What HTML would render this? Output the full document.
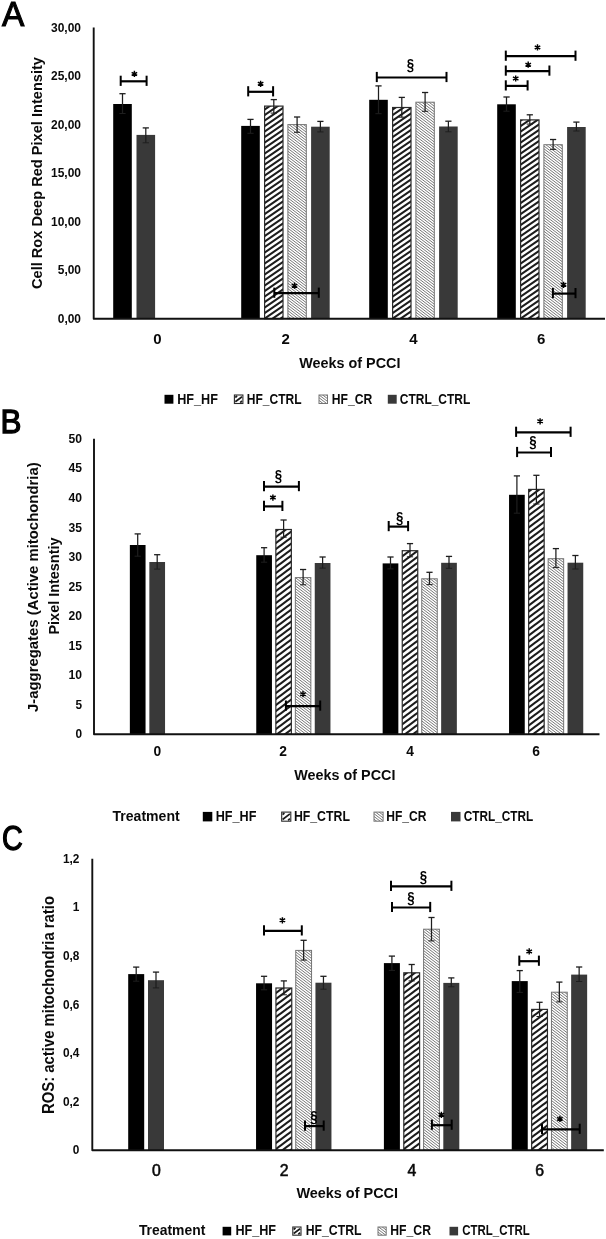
<!DOCTYPE html>
<html lang="en">
<head>
<meta charset="utf-8">
<title>Figure</title>
<style>
html,body{margin:0;padding:0;background:#fff;}
body{width:606px;height:1239px;overflow:hidden;font-family:"Liberation Sans", sans-serif;}
svg{display:block;filter:grayscale(1);}
text{white-space:pre;}
</style>
</head>
<body>
<svg width="606" height="1239" viewBox="0 0 606 1239" font-family='"Liberation Sans", sans-serif'>
<defs>
<pattern id="hwA" patternUnits="userSpaceOnUse" width="16" height="11"><rect width="16" height="11" fill="#fff"/><path d="M-8,-22 L24,-44 M-8,-16.5 L24,-38.5 M-8,-11 L24,-33 M-8,-5.5 L24,-27.5 M-8,0 L24,-22 M-8,5.5 L24,-16.5 M-8,11 L24,-11 M-8,16.5 L24,-5.5 M-8,22 L24,0 M-8,27.5 L24,5.5 M-8,33 L24,11" stroke="#1c1c1c" stroke-width="2.05" fill="none"/></pattern>
<pattern id="hw" patternUnits="userSpaceOnUse" width="8" height="6"><rect width="8" height="6" fill="#fff"/><path d="M-8,-12 L16,-30 M-8,-6 L16,-24 M-8,0 L16,-18 M-8,6 L16,-12 M-8,12 L16,-6 M-8,18 L16,0 M-8,24 L16,6" stroke="#1c1c1c" stroke-width="2.1" fill="none"/></pattern>
<pattern id="hf" patternUnits="userSpaceOnUse" width="18" height="11"><rect width="18" height="11" fill="#fff"/><path d="M-3.6,-30.25 L21.6,-11 M-3.6,-27.5 L21.6,-8.25 M-3.6,-24.75 L21.6,-5.5 M-3.6,-22 L21.6,-2.75 M-3.6,-19.25 L21.6,0 M-3.6,-16.5 L21.6,2.75 M-3.6,-13.75 L21.6,5.5 M-3.6,-11 L21.6,8.25 M-3.6,-8.25 L21.6,11 M-3.6,-5.5 L21.6,13.75 M-3.6,-2.75 L21.6,16.5 M-3.6,0 L21.6,19.25 M-3.6,2.75 L21.6,22 M-3.6,5.5 L21.6,24.75 M-3.6,8.25 L21.6,27.5 M-3.6,11 L21.6,30.25 M-3.6,13.75 L21.6,33 M-3.6,16.5 L21.6,35.75 M-3.6,19.25 L21.6,38.5 M-3.6,22 L21.6,41.25 M-3.6,24.75 L21.6,44" stroke="#787878" stroke-width="1" fill="none"/></pattern>
</defs>
<rect width="606" height="1239" fill="#fff"/>
<g>
<rect x="113.2" y="104" width="18.6" height="214.7" fill="#000"/>
<rect x="136.5" y="134.9" width="18.6" height="183.8" fill="#393939"/>
<rect x="241.2" y="125.9" width="18.6" height="192.8" fill="#000"/>
<rect x="264.6" y="106.1" width="18.4" height="212.6" fill="url(#hwA)" stroke="#2a2a2a" stroke-width="1.2"/>
<rect x="287.9" y="124.6" width="18.4" height="194.1" fill="url(#hf)" stroke="#747474" stroke-width="1"/>
<rect x="311.1" y="126.7" width="18.6" height="192" fill="#393939"/>
<rect x="369.2" y="99.8" width="18.6" height="218.9" fill="#000"/>
<rect x="392.6" y="107.5" width="18.4" height="211.2" fill="url(#hwA)" stroke="#2a2a2a" stroke-width="1.2"/>
<rect x="415.9" y="102.2" width="18.4" height="216.5" fill="url(#hf)" stroke="#747474" stroke-width="1"/>
<rect x="439.1" y="126.5" width="18.6" height="192.2" fill="#393939"/>
<rect x="497.2" y="104.3" width="18.6" height="214.4" fill="#000"/>
<rect x="520.6" y="119.9" width="18.4" height="198.8" fill="url(#hwA)" stroke="#2a2a2a" stroke-width="1.2"/>
<rect x="543.9" y="144.7" width="18.4" height="174" fill="url(#hf)" stroke="#747474" stroke-width="1"/>
<rect x="567.1" y="127" width="18.6" height="191.7" fill="#393939"/>
<line x1="122.5" y1="93.7" x2="122.5" y2="113.5" stroke="#1e1e1e" stroke-width="1.25"/>
<line x1="119.4" y1="93.7" x2="125.6" y2="93.7" stroke="#1e1e1e" stroke-width="1.3"/>
<line x1="119.4" y1="113.5" x2="125.6" y2="113.5" stroke="#1e1e1e" stroke-width="1"/>
<line x1="145.8" y1="127.9" x2="145.8" y2="142.8" stroke="#1e1e1e" stroke-width="1.25"/>
<line x1="142.7" y1="127.9" x2="148.9" y2="127.9" stroke="#1e1e1e" stroke-width="1.3"/>
<line x1="142.7" y1="142.8" x2="148.9" y2="142.8" stroke="#1e1e1e" stroke-width="1"/>
<line x1="250.5" y1="119.4" x2="250.5" y2="133.3" stroke="#1e1e1e" stroke-width="1.25"/>
<line x1="247.4" y1="119.4" x2="253.6" y2="119.4" stroke="#1e1e1e" stroke-width="1.3"/>
<line x1="247.4" y1="133.3" x2="253.6" y2="133.3" stroke="#1e1e1e" stroke-width="1"/>
<line x1="273.8" y1="99.6" x2="273.8" y2="113.1" stroke="#1e1e1e" stroke-width="1.25"/>
<line x1="270.7" y1="99.6" x2="276.9" y2="99.6" stroke="#1e1e1e" stroke-width="1.3"/>
<line x1="270.7" y1="113.1" x2="276.9" y2="113.1" stroke="#1e1e1e" stroke-width="1"/>
<line x1="297.1" y1="117" x2="297.1" y2="132.3" stroke="#1e1e1e" stroke-width="1.25"/>
<line x1="294" y1="117" x2="300.2" y2="117" stroke="#1e1e1e" stroke-width="1.3"/>
<line x1="294" y1="132.3" x2="300.2" y2="132.3" stroke="#1e1e1e" stroke-width="1"/>
<line x1="320.4" y1="121.4" x2="320.4" y2="131.9" stroke="#1e1e1e" stroke-width="1.25"/>
<line x1="317.3" y1="121.4" x2="323.5" y2="121.4" stroke="#1e1e1e" stroke-width="1.3"/>
<line x1="317.3" y1="131.9" x2="323.5" y2="131.9" stroke="#1e1e1e" stroke-width="1"/>
<line x1="378.5" y1="85.9" x2="378.5" y2="113.7" stroke="#1e1e1e" stroke-width="1.25"/>
<line x1="375.4" y1="85.9" x2="381.6" y2="85.9" stroke="#1e1e1e" stroke-width="1.3"/>
<line x1="375.4" y1="113.7" x2="381.6" y2="113.7" stroke="#1e1e1e" stroke-width="1"/>
<line x1="401.8" y1="97.4" x2="401.8" y2="117.2" stroke="#1e1e1e" stroke-width="1.25"/>
<line x1="398.7" y1="97.4" x2="404.9" y2="97.4" stroke="#1e1e1e" stroke-width="1.3"/>
<line x1="398.7" y1="117.2" x2="404.9" y2="117.2" stroke="#1e1e1e" stroke-width="1"/>
<line x1="425.1" y1="92.5" x2="425.1" y2="111.3" stroke="#1e1e1e" stroke-width="1.25"/>
<line x1="422" y1="92.5" x2="428.2" y2="92.5" stroke="#1e1e1e" stroke-width="1.3"/>
<line x1="422" y1="111.3" x2="428.2" y2="111.3" stroke="#1e1e1e" stroke-width="1"/>
<line x1="448.4" y1="121.2" x2="448.4" y2="131.8" stroke="#1e1e1e" stroke-width="1.25"/>
<line x1="445.3" y1="121.2" x2="451.5" y2="121.2" stroke="#1e1e1e" stroke-width="1.3"/>
<line x1="445.3" y1="131.8" x2="451.5" y2="131.8" stroke="#1e1e1e" stroke-width="1"/>
<line x1="506.5" y1="97" x2="506.5" y2="111.2" stroke="#1e1e1e" stroke-width="1.25"/>
<line x1="503.4" y1="97" x2="509.6" y2="97" stroke="#1e1e1e" stroke-width="1.3"/>
<line x1="503.4" y1="111.2" x2="509.6" y2="111.2" stroke="#1e1e1e" stroke-width="1"/>
<line x1="529.8" y1="114.8" x2="529.8" y2="124.1" stroke="#1e1e1e" stroke-width="1.25"/>
<line x1="526.7" y1="114.8" x2="532.9" y2="114.8" stroke="#1e1e1e" stroke-width="1.3"/>
<line x1="526.7" y1="124.1" x2="532.9" y2="124.1" stroke="#1e1e1e" stroke-width="1"/>
<line x1="553.1" y1="139.5" x2="553.1" y2="149.4" stroke="#1e1e1e" stroke-width="1.25"/>
<line x1="550" y1="139.5" x2="556.2" y2="139.5" stroke="#1e1e1e" stroke-width="1.3"/>
<line x1="550" y1="149.4" x2="556.2" y2="149.4" stroke="#1e1e1e" stroke-width="1"/>
<line x1="576.4" y1="122.1" x2="576.4" y2="131" stroke="#1e1e1e" stroke-width="1.25"/>
<line x1="573.3" y1="122.1" x2="579.5" y2="122.1" stroke="#1e1e1e" stroke-width="1.3"/>
<line x1="573.3" y1="131" x2="579.5" y2="131" stroke="#1e1e1e" stroke-width="1"/>
<path d="M93.7,27.6 V318.7 H605" fill="none" stroke="#111" stroke-width="1.9" stroke-linejoin="round"/>
<line x1="120.7" y1="81.3" x2="146.6" y2="81.3" stroke="#000" stroke-width="2.2"/>
<line x1="120.7" y1="75.7" x2="120.7" y2="85.9" stroke="#000" stroke-width="2"/>
<line x1="146.6" y1="75.7" x2="146.6" y2="85.9" stroke="#000" stroke-width="2"/>
<path d="M134.4,70.8 V77 M131.65,72.3 L137.15,75.5 M131.65,75.5 L137.15,72.3" stroke="#000" stroke-width="1.45" fill="none"/>
<line x1="248.2" y1="91.8" x2="273.1" y2="91.8" stroke="#000" stroke-width="2.2"/>
<line x1="248.2" y1="86.2" x2="248.2" y2="96.4" stroke="#000" stroke-width="2"/>
<line x1="273.1" y1="86.2" x2="273.1" y2="96.4" stroke="#000" stroke-width="2"/>
<path d="M260.6,80.7 V86.9 M257.85,82.2 L263.35,85.4 M257.85,85.4 L263.35,82.2" stroke="#000" stroke-width="1.45" fill="none"/>
<line x1="376.8" y1="77.5" x2="446.5" y2="77.5" stroke="#000" stroke-width="2.2"/>
<line x1="376.8" y1="71.9" x2="376.8" y2="82.1" stroke="#000" stroke-width="2"/>
<line x1="446.5" y1="71.9" x2="446.5" y2="82.1" stroke="#000" stroke-width="2"/>
<g transform="translate(410.4 71.42) scale(0.8 1)">
<text x="0" y="0" font-size="16.5" text-anchor="middle" font-weight="bold" fill="#000">§</text>
</g>
<line x1="505.8" y1="56.2" x2="575.5" y2="56.2" stroke="#000" stroke-width="2.2"/>
<line x1="505.8" y1="50.6" x2="505.8" y2="60.8" stroke="#000" stroke-width="2"/>
<line x1="575.5" y1="50.6" x2="575.5" y2="60.8" stroke="#000" stroke-width="2"/>
<path d="M537.5,44.3 V50.5 M534.75,45.8 L540.25,49 M534.75,49 L540.25,45.8" stroke="#000" stroke-width="1.45" fill="none"/>
<line x1="505.8" y1="71.1" x2="549.4" y2="71.1" stroke="#000" stroke-width="2.2"/>
<line x1="505.8" y1="65.5" x2="505.8" y2="75.7" stroke="#000" stroke-width="2"/>
<line x1="549.4" y1="65.5" x2="549.4" y2="75.7" stroke="#000" stroke-width="2"/>
<path d="M528.2,61.6 V67.8 M525.45,63.1 L530.95,66.3 M525.45,66.3 L530.95,63.1" stroke="#000" stroke-width="1.45" fill="none"/>
<line x1="505.8" y1="85.9" x2="527.6" y2="85.9" stroke="#000" stroke-width="2.2"/>
<line x1="505.8" y1="80.3" x2="505.8" y2="90.5" stroke="#000" stroke-width="2"/>
<line x1="527.6" y1="80.3" x2="527.6" y2="90.5" stroke="#000" stroke-width="2"/>
<path d="M515.7,75.4 V81.6 M512.95,76.9 L518.45,80.1 M512.95,80.1 L518.45,76.9" stroke="#000" stroke-width="1.45" fill="none"/>
<line x1="274.3" y1="293.2" x2="318.8" y2="293.2" stroke="#000" stroke-width="2.2"/>
<line x1="274.3" y1="287.6" x2="274.3" y2="297.8" stroke="#000" stroke-width="2"/>
<line x1="318.8" y1="287.6" x2="318.8" y2="297.8" stroke="#000" stroke-width="2"/>
<path d="M294.5,282.6 V288.8 M291.75,284.1 L297.25,287.3 M291.75,287.3 L297.25,284.1" stroke="#000" stroke-width="1.45" fill="none"/>
<line x1="552.9" y1="293.6" x2="575.5" y2="293.6" stroke="#000" stroke-width="2.2"/>
<line x1="552.9" y1="288" x2="552.9" y2="298.2" stroke="#000" stroke-width="2"/>
<line x1="575.5" y1="288" x2="575.5" y2="298.2" stroke="#000" stroke-width="2"/>
<path d="M563.6,281.7 V287.9 M560.85,283.2 L566.35,286.4 M560.85,286.4 L566.35,283.2" stroke="#000" stroke-width="1.45" fill="none"/>
<text x="51" y="32" font-size="13" text-anchor="start" font-weight="bold" fill="#0a0a0a" textLength="30" lengthAdjust="spacingAndGlyphs">30,00</text>
<text x="51" y="80" font-size="13" text-anchor="start" font-weight="bold" fill="#0a0a0a" textLength="30" lengthAdjust="spacingAndGlyphs">25,00</text>
<text x="51" y="129" font-size="13" text-anchor="start" font-weight="bold" fill="#0a0a0a" textLength="30" lengthAdjust="spacingAndGlyphs">20,00</text>
<text x="51" y="177" font-size="13" text-anchor="start" font-weight="bold" fill="#0a0a0a" textLength="30" lengthAdjust="spacingAndGlyphs">15,00</text>
<text x="51" y="226" font-size="13" text-anchor="start" font-weight="bold" fill="#0a0a0a" textLength="30" lengthAdjust="spacingAndGlyphs">10,00</text>
<text x="57.8" y="274" font-size="13" text-anchor="start" font-weight="bold" fill="#0a0a0a" textLength="23.2" lengthAdjust="spacingAndGlyphs">5,00</text>
<text x="57.8" y="323" font-size="13" text-anchor="start" font-weight="bold" fill="#0a0a0a" textLength="23.2" lengthAdjust="spacingAndGlyphs">0,00</text>
<text x="157.5" y="344" font-size="15" text-anchor="middle" font-weight="bold" fill="#0a0a0a">0</text>
<text x="285.7" y="344" font-size="15" text-anchor="middle" font-weight="bold" fill="#0a0a0a">2</text>
<text x="413.5" y="344" font-size="15" text-anchor="middle" font-weight="bold" fill="#0a0a0a">4</text>
<text x="541.2" y="344" font-size="15" text-anchor="middle" font-weight="bold" fill="#0a0a0a">6</text>
<text x="299.2" y="368" font-size="15.5" text-anchor="start" font-weight="bold" fill="#0a0a0a" textLength="101.2" lengthAdjust="spacingAndGlyphs">Weeks of PCCI</text>
<text x="41.9" y="289" font-size="15.5" text-anchor="start" font-weight="bold" fill="#0a0a0a" textLength="232" lengthAdjust="spacingAndGlyphs" transform="rotate(-90 41.9 289)">Cell Rox Deep Red Pixel Intensity</text>
<rect x="164.5" y="394.8" width="8.9" height="8.9" fill="#000"/>
<text x="177.2" y="404" font-size="15.2" text-anchor="start" font-weight="bold" fill="#0a0a0a" textLength="40.7" lengthAdjust="spacingAndGlyphs">HF_HF</text>
<rect x="234.4" y="395" width="8.5" height="8.5" fill="#fff" stroke="#2a2a2a" stroke-width="1.1"/>
<path d="M235.3,401.8 L242,396.7 M235.3,397.5 L237.1,395.9 M240.2,402.6 L242,401" stroke="#1c1c1c" stroke-width="1.7" fill="none"/>
<text x="246.8" y="404" font-size="15.2" text-anchor="start" font-weight="bold" fill="#0a0a0a" textLength="54.7" lengthAdjust="spacingAndGlyphs">HF_CTRL</text>
<rect x="319" y="395" width="8.5" height="8.5" fill="url(#hf)" stroke="#747474" stroke-width="1"/>
<text x="331.7" y="404" font-size="15.2" text-anchor="start" font-weight="bold" fill="#0a0a0a" textLength="40.5" lengthAdjust="spacingAndGlyphs">HF_CR</text>
<rect x="387.8" y="394.8" width="8.9" height="8.9" fill="#393939"/>
<text x="399.8" y="404" font-size="15.2" text-anchor="start" font-weight="bold" fill="#0a0a0a" textLength="70.5" lengthAdjust="spacingAndGlyphs">CTRL_CTRL</text>
<g transform="translate(1.9 25.9) scale(0.93 1)">
<text x="0" y="0" font-size="36" text-anchor="start" font-weight="normal" fill="#000" stroke="#000" stroke-width="1.1">A</text>
</g>
</g>
<g>
<rect x="129.85" y="545" width="15.7" height="189.2" fill="#000"/>
<rect x="149.35" y="562" width="15.7" height="172.2" fill="#393939"/>
<rect x="256.25" y="555.2" width="15.7" height="179" fill="#000"/>
<rect x="275.85" y="529.5" width="15.5" height="204.7" fill="url(#hw)" stroke="#2a2a2a" stroke-width="1.2"/>
<rect x="295.35" y="577.6" width="15.5" height="156.6" fill="url(#hf)" stroke="#747474" stroke-width="1"/>
<rect x="314.75" y="563" width="15.7" height="171.2" fill="#393939"/>
<rect x="382.65" y="563.4" width="15.7" height="170.8" fill="#000"/>
<rect x="402.25" y="550.7" width="15.5" height="183.5" fill="url(#hw)" stroke="#2a2a2a" stroke-width="1.2"/>
<rect x="421.75" y="578.8" width="15.5" height="155.4" fill="url(#hf)" stroke="#747474" stroke-width="1"/>
<rect x="441.15" y="562.8" width="15.7" height="171.4" fill="#393939"/>
<rect x="509.05" y="494.8" width="15.7" height="239.4" fill="#000"/>
<rect x="528.65" y="489.4" width="15.5" height="244.8" fill="url(#hw)" stroke="#2a2a2a" stroke-width="1.2"/>
<rect x="548.15" y="558.7" width="15.5" height="175.5" fill="url(#hf)" stroke="#747474" stroke-width="1"/>
<rect x="567.55" y="562.7" width="15.7" height="171.5" fill="#393939"/>
<line x1="137.7" y1="533.9" x2="137.7" y2="556.2" stroke="#1e1e1e" stroke-width="1.25"/>
<line x1="134.6" y1="533.9" x2="140.8" y2="533.9" stroke="#1e1e1e" stroke-width="1.3"/>
<line x1="134.6" y1="556.2" x2="140.8" y2="556.2" stroke="#1e1e1e" stroke-width="1"/>
<line x1="157.2" y1="554.7" x2="157.2" y2="569.1" stroke="#1e1e1e" stroke-width="1.25"/>
<line x1="154.1" y1="554.7" x2="160.3" y2="554.7" stroke="#1e1e1e" stroke-width="1.3"/>
<line x1="154.1" y1="569.1" x2="160.3" y2="569.1" stroke="#1e1e1e" stroke-width="1"/>
<line x1="264.1" y1="547.7" x2="264.1" y2="562.2" stroke="#1e1e1e" stroke-width="1.25"/>
<line x1="261" y1="547.7" x2="267.2" y2="547.7" stroke="#1e1e1e" stroke-width="1.3"/>
<line x1="261" y1="562.2" x2="267.2" y2="562.2" stroke="#1e1e1e" stroke-width="1"/>
<line x1="283.6" y1="520" x2="283.6" y2="537.2" stroke="#1e1e1e" stroke-width="1.25"/>
<line x1="280.5" y1="520" x2="286.7" y2="520" stroke="#1e1e1e" stroke-width="1.3"/>
<line x1="280.5" y1="537.2" x2="286.7" y2="537.2" stroke="#1e1e1e" stroke-width="1"/>
<line x1="303.1" y1="569.5" x2="303.1" y2="584.8" stroke="#1e1e1e" stroke-width="1.25"/>
<line x1="300" y1="569.5" x2="306.2" y2="569.5" stroke="#1e1e1e" stroke-width="1.3"/>
<line x1="300" y1="584.8" x2="306.2" y2="584.8" stroke="#1e1e1e" stroke-width="1"/>
<line x1="322.6" y1="557" x2="322.6" y2="568.1" stroke="#1e1e1e" stroke-width="1.25"/>
<line x1="319.5" y1="557" x2="325.7" y2="557" stroke="#1e1e1e" stroke-width="1.3"/>
<line x1="319.5" y1="568.1" x2="325.7" y2="568.1" stroke="#1e1e1e" stroke-width="1"/>
<line x1="390.5" y1="557" x2="390.5" y2="568.9" stroke="#1e1e1e" stroke-width="1.25"/>
<line x1="387.4" y1="557" x2="393.6" y2="557" stroke="#1e1e1e" stroke-width="1.3"/>
<line x1="387.4" y1="568.9" x2="393.6" y2="568.9" stroke="#1e1e1e" stroke-width="1"/>
<line x1="410" y1="543.6" x2="410" y2="556.8" stroke="#1e1e1e" stroke-width="1.25"/>
<line x1="406.9" y1="543.6" x2="413.1" y2="543.6" stroke="#1e1e1e" stroke-width="1.3"/>
<line x1="406.9" y1="556.8" x2="413.1" y2="556.8" stroke="#1e1e1e" stroke-width="1"/>
<line x1="429.5" y1="572.3" x2="429.5" y2="584.6" stroke="#1e1e1e" stroke-width="1.25"/>
<line x1="426.4" y1="572.3" x2="432.6" y2="572.3" stroke="#1e1e1e" stroke-width="1.3"/>
<line x1="426.4" y1="584.6" x2="432.6" y2="584.6" stroke="#1e1e1e" stroke-width="1"/>
<line x1="449" y1="556.4" x2="449" y2="568.3" stroke="#1e1e1e" stroke-width="1.25"/>
<line x1="445.9" y1="556.4" x2="452.1" y2="556.4" stroke="#1e1e1e" stroke-width="1.3"/>
<line x1="445.9" y1="568.3" x2="452.1" y2="568.3" stroke="#1e1e1e" stroke-width="1"/>
<line x1="516.9" y1="475.9" x2="516.9" y2="513.2" stroke="#1e1e1e" stroke-width="1.25"/>
<line x1="513.8" y1="475.9" x2="520" y2="475.9" stroke="#1e1e1e" stroke-width="1.3"/>
<line x1="513.8" y1="513.2" x2="520" y2="513.2" stroke="#1e1e1e" stroke-width="1"/>
<line x1="536.4" y1="475.3" x2="536.4" y2="504" stroke="#1e1e1e" stroke-width="1.25"/>
<line x1="533.3" y1="475.3" x2="539.5" y2="475.3" stroke="#1e1e1e" stroke-width="1.3"/>
<line x1="533.3" y1="504" x2="539.5" y2="504" stroke="#1e1e1e" stroke-width="1"/>
<line x1="555.9" y1="548.6" x2="555.9" y2="567.6" stroke="#1e1e1e" stroke-width="1.25"/>
<line x1="552.8" y1="548.6" x2="559" y2="548.6" stroke="#1e1e1e" stroke-width="1.3"/>
<line x1="552.8" y1="567.6" x2="559" y2="567.6" stroke="#1e1e1e" stroke-width="1"/>
<line x1="575.4" y1="555.5" x2="575.4" y2="569" stroke="#1e1e1e" stroke-width="1.25"/>
<line x1="572.3" y1="555.5" x2="578.5" y2="555.5" stroke="#1e1e1e" stroke-width="1.3"/>
<line x1="572.3" y1="569" x2="578.5" y2="569" stroke="#1e1e1e" stroke-width="1"/>
<path d="M94,438.7 V734.2 H599.5" fill="none" stroke="#111" stroke-width="1.9" stroke-linejoin="round"/>
<line x1="264" y1="486.6" x2="298.9" y2="486.6" stroke="#000" stroke-width="2.2"/>
<line x1="264" y1="481" x2="264" y2="491.2" stroke="#000" stroke-width="2"/>
<line x1="298.9" y1="481" x2="298.9" y2="491.2" stroke="#000" stroke-width="2"/>
<g transform="translate(278.5 481.92) scale(0.8 1)">
<text x="0" y="0" font-size="16.5" text-anchor="middle" font-weight="bold" fill="#000">§</text>
</g>
<line x1="264" y1="506.4" x2="282.4" y2="506.4" stroke="#000" stroke-width="2.2"/>
<line x1="264" y1="500.8" x2="264" y2="511" stroke="#000" stroke-width="2"/>
<line x1="282.4" y1="500.8" x2="282.4" y2="511" stroke="#000" stroke-width="2"/>
<path d="M272.9,494.5 V500.7 M270.15,496 L275.65,499.2 M270.15,499.2 L275.65,496" stroke="#000" stroke-width="1.45" fill="none"/>
<line x1="388.7" y1="526.6" x2="408.1" y2="526.6" stroke="#000" stroke-width="2.2"/>
<line x1="388.7" y1="521" x2="388.7" y2="531.2" stroke="#000" stroke-width="2"/>
<line x1="408.1" y1="521" x2="408.1" y2="531.2" stroke="#000" stroke-width="2"/>
<g transform="translate(399.6 523.92) scale(0.8 1)">
<text x="0" y="0" font-size="16.5" text-anchor="middle" font-weight="bold" fill="#000">§</text>
</g>
<line x1="516.1" y1="432.3" x2="570.6" y2="432.3" stroke="#000" stroke-width="2.2"/>
<line x1="516.1" y1="426.7" x2="516.1" y2="436.9" stroke="#000" stroke-width="2"/>
<line x1="570.6" y1="426.7" x2="570.6" y2="436.9" stroke="#000" stroke-width="2"/>
<path d="M540.1,418.2 V424.4 M537.35,419.7 L542.85,422.9 M537.35,422.9 L542.85,419.7" stroke="#000" stroke-width="1.45" fill="none"/>
<line x1="517.1" y1="452.5" x2="551" y2="452.5" stroke="#000" stroke-width="2.2"/>
<line x1="517.1" y1="446.9" x2="517.1" y2="457.1" stroke="#000" stroke-width="2"/>
<line x1="551" y1="446.9" x2="551" y2="457.1" stroke="#000" stroke-width="2"/>
<g transform="translate(532.9 448.42) scale(0.8 1)">
<text x="0" y="0" font-size="16.5" text-anchor="middle" font-weight="bold" fill="#000">§</text>
</g>
<line x1="285.9" y1="706.1" x2="320.2" y2="706.1" stroke="#000" stroke-width="2.2"/>
<line x1="285.9" y1="700.5" x2="285.9" y2="710.7" stroke="#000" stroke-width="2"/>
<line x1="320.2" y1="700.5" x2="320.2" y2="710.7" stroke="#000" stroke-width="2"/>
<path d="M303,691.1 V697.3 M300.25,692.6 L305.75,695.8 M300.25,695.8 L305.75,692.6" stroke="#000" stroke-width="1.45" fill="none"/>
<text x="68.5" y="443" font-size="13.5" text-anchor="start" font-weight="bold" fill="#0a0a0a" textLength="13.5" lengthAdjust="spacingAndGlyphs">50</text>
<text x="68.5" y="472" font-size="13.5" text-anchor="start" font-weight="bold" fill="#0a0a0a" textLength="13.5" lengthAdjust="spacingAndGlyphs">45</text>
<text x="68.5" y="502" font-size="13.5" text-anchor="start" font-weight="bold" fill="#0a0a0a" textLength="13.5" lengthAdjust="spacingAndGlyphs">40</text>
<text x="68.5" y="532" font-size="13.5" text-anchor="start" font-weight="bold" fill="#0a0a0a" textLength="13.5" lengthAdjust="spacingAndGlyphs">35</text>
<text x="68.5" y="561" font-size="13.5" text-anchor="start" font-weight="bold" fill="#0a0a0a" textLength="13.5" lengthAdjust="spacingAndGlyphs">30</text>
<text x="68.5" y="591" font-size="13.5" text-anchor="start" font-weight="bold" fill="#0a0a0a" textLength="13.5" lengthAdjust="spacingAndGlyphs">25</text>
<text x="68.5" y="620" font-size="13.5" text-anchor="start" font-weight="bold" fill="#0a0a0a" textLength="13.5" lengthAdjust="spacingAndGlyphs">20</text>
<text x="68.5" y="650" font-size="13.5" text-anchor="start" font-weight="bold" fill="#0a0a0a" textLength="13.5" lengthAdjust="spacingAndGlyphs">15</text>
<text x="68.5" y="679" font-size="13.5" text-anchor="start" font-weight="bold" fill="#0a0a0a" textLength="13.5" lengthAdjust="spacingAndGlyphs">10</text>
<text x="75.4" y="709" font-size="13.5" text-anchor="start" font-weight="bold" fill="#0a0a0a" textLength="6.6" lengthAdjust="spacingAndGlyphs">5</text>
<text x="75.4" y="738" font-size="13.5" text-anchor="start" font-weight="bold" fill="#0a0a0a" textLength="6.6" lengthAdjust="spacingAndGlyphs">0</text>
<text x="157.3" y="756" font-size="13.8" text-anchor="middle" font-weight="bold" fill="#0a0a0a">0</text>
<text x="283.2" y="756" font-size="13.8" text-anchor="middle" font-weight="bold" fill="#0a0a0a">2</text>
<text x="410" y="756" font-size="13.8" text-anchor="middle" font-weight="bold" fill="#0a0a0a">4</text>
<text x="536.2" y="756" font-size="13.8" text-anchor="middle" font-weight="bold" fill="#0a0a0a">6</text>
<text x="294.3" y="780" font-size="15.5" text-anchor="start" font-weight="bold" fill="#0a0a0a" textLength="101.1" lengthAdjust="spacingAndGlyphs">Weeks of PCCI</text>
<text x="38.4" y="712.05" font-size="15.5" text-anchor="start" font-weight="bold" fill="#0a0a0a" textLength="249.7" lengthAdjust="spacingAndGlyphs" transform="rotate(-90 38.4 712.05)">J-aggregates (Active mitochondria)</text>
<text x="59.4" y="634.5" font-size="15.5" text-anchor="start" font-weight="bold" fill="#0a0a0a" textLength="97" lengthAdjust="spacingAndGlyphs" transform="rotate(-90 59.4 634.5)">Pixel Intesntiy</text>
<text x="112.5" y="821" font-size="15" text-anchor="start" font-weight="bold" fill="#0a0a0a" textLength="67.2" lengthAdjust="spacingAndGlyphs">Treatment</text>
<rect x="202.8" y="811.9" width="9.5" height="9.5" fill="#000"/>
<text x="215.7" y="821" font-size="15" text-anchor="start" font-weight="bold" fill="#0a0a0a" textLength="40.7" lengthAdjust="spacingAndGlyphs">HF_HF</text>
<rect x="281.7" y="812.1" width="9.1" height="9.1" fill="#fff" stroke="#2a2a2a" stroke-width="1.1"/>
<path d="M282.6,819.5 L289.9,813.8 M282.6,814.6 L284.4,813 M288.1,820.3 L289.9,818.7" stroke="#1c1c1c" stroke-width="1.7" fill="none"/>
<text x="293.9" y="821" font-size="15" text-anchor="start" font-weight="bold" fill="#0a0a0a" textLength="56" lengthAdjust="spacingAndGlyphs">HF_CTRL</text>
<rect x="374" y="812.1" width="9.1" height="9.1" fill="url(#hf)" stroke="#747474" stroke-width="1"/>
<text x="386.3" y="821" font-size="15" text-anchor="start" font-weight="bold" fill="#0a0a0a" textLength="40.2" lengthAdjust="spacingAndGlyphs">HF_CR</text>
<rect x="451" y="811.9" width="9.5" height="9.5" fill="#393939"/>
<text x="463.8" y="821" font-size="15" text-anchor="start" font-weight="bold" fill="#0a0a0a" textLength="69.4" lengthAdjust="spacingAndGlyphs">CTRL_CTRL</text>
<g transform="translate(0.6 433.3) scale(0.93 1)">
<text x="0" y="0" font-size="33.8" text-anchor="start" font-weight="normal" fill="#000" stroke="#000" stroke-width="1.3">B</text>
</g>
</g>
<g>
<rect x="128.2" y="974.1" width="16" height="176.1" fill="#000"/>
<rect x="148" y="980.2" width="16" height="170" fill="#393939"/>
<rect x="256.05" y="983.3" width="16" height="166.9" fill="#000"/>
<rect x="275.95" y="988" width="15.8" height="162.2" fill="url(#hw)" stroke="#2a2a2a" stroke-width="1.2"/>
<rect x="295.75" y="950.4" width="15.8" height="199.8" fill="url(#hf)" stroke="#747474" stroke-width="1"/>
<rect x="315.45" y="982.7" width="16" height="167.5" fill="#393939"/>
<rect x="383.9" y="963.1" width="16" height="187.1" fill="#000"/>
<rect x="403.8" y="972.8" width="15.8" height="177.4" fill="url(#hw)" stroke="#2a2a2a" stroke-width="1.2"/>
<rect x="423.6" y="929.2" width="15.8" height="221" fill="url(#hf)" stroke="#747474" stroke-width="1"/>
<rect x="443.3" y="982.9" width="16" height="167.3" fill="#393939"/>
<rect x="511.75" y="981.1" width="16" height="169.1" fill="#000"/>
<rect x="531.65" y="1009.4" width="15.8" height="140.8" fill="url(#hw)" stroke="#2a2a2a" stroke-width="1.2"/>
<rect x="551.45" y="992.2" width="15.8" height="158" fill="url(#hf)" stroke="#747474" stroke-width="1"/>
<rect x="571.15" y="974.6" width="16" height="175.6" fill="#393939"/>
<line x1="136.2" y1="967.1" x2="136.2" y2="981.2" stroke="#1e1e1e" stroke-width="1.25"/>
<line x1="133.1" y1="967.1" x2="139.3" y2="967.1" stroke="#1e1e1e" stroke-width="1.3"/>
<line x1="133.1" y1="981.2" x2="139.3" y2="981.2" stroke="#1e1e1e" stroke-width="1"/>
<line x1="156" y1="972.1" x2="156" y2="987.9" stroke="#1e1e1e" stroke-width="1.25"/>
<line x1="152.9" y1="972.1" x2="159.1" y2="972.1" stroke="#1e1e1e" stroke-width="1.3"/>
<line x1="152.9" y1="987.9" x2="159.1" y2="987.9" stroke="#1e1e1e" stroke-width="1"/>
<line x1="264.05" y1="976.3" x2="264.05" y2="989.8" stroke="#1e1e1e" stroke-width="1.25"/>
<line x1="260.95" y1="976.3" x2="267.15" y2="976.3" stroke="#1e1e1e" stroke-width="1.3"/>
<line x1="260.95" y1="989.8" x2="267.15" y2="989.8" stroke="#1e1e1e" stroke-width="1"/>
<line x1="283.85" y1="980.9" x2="283.85" y2="994.8" stroke="#1e1e1e" stroke-width="1.25"/>
<line x1="280.75" y1="980.9" x2="286.95" y2="980.9" stroke="#1e1e1e" stroke-width="1.3"/>
<line x1="280.75" y1="994.8" x2="286.95" y2="994.8" stroke="#1e1e1e" stroke-width="1"/>
<line x1="303.65" y1="940.3" x2="303.65" y2="960.1" stroke="#1e1e1e" stroke-width="1.25"/>
<line x1="300.55" y1="940.3" x2="306.75" y2="940.3" stroke="#1e1e1e" stroke-width="1.3"/>
<line x1="300.55" y1="960.1" x2="306.75" y2="960.1" stroke="#1e1e1e" stroke-width="1"/>
<line x1="323.45" y1="976.3" x2="323.45" y2="989.2" stroke="#1e1e1e" stroke-width="1.25"/>
<line x1="320.35" y1="976.3" x2="326.55" y2="976.3" stroke="#1e1e1e" stroke-width="1.3"/>
<line x1="320.35" y1="989.2" x2="326.55" y2="989.2" stroke="#1e1e1e" stroke-width="1"/>
<line x1="391.9" y1="956.1" x2="391.9" y2="970.4" stroke="#1e1e1e" stroke-width="1.25"/>
<line x1="388.8" y1="956.1" x2="395" y2="956.1" stroke="#1e1e1e" stroke-width="1.3"/>
<line x1="388.8" y1="970.4" x2="395" y2="970.4" stroke="#1e1e1e" stroke-width="1"/>
<line x1="411.7" y1="964.5" x2="411.7" y2="980.9" stroke="#1e1e1e" stroke-width="1.25"/>
<line x1="408.6" y1="964.5" x2="414.8" y2="964.5" stroke="#1e1e1e" stroke-width="1.3"/>
<line x1="408.6" y1="980.9" x2="414.8" y2="980.9" stroke="#1e1e1e" stroke-width="1"/>
<line x1="431.5" y1="917.5" x2="431.5" y2="940.9" stroke="#1e1e1e" stroke-width="1.25"/>
<line x1="428.4" y1="917.5" x2="434.6" y2="917.5" stroke="#1e1e1e" stroke-width="1.3"/>
<line x1="428.4" y1="940.9" x2="434.6" y2="940.9" stroke="#1e1e1e" stroke-width="1"/>
<line x1="451.3" y1="977.9" x2="451.3" y2="986.8" stroke="#1e1e1e" stroke-width="1.25"/>
<line x1="448.2" y1="977.9" x2="454.4" y2="977.9" stroke="#1e1e1e" stroke-width="1.3"/>
<line x1="448.2" y1="986.8" x2="454.4" y2="986.8" stroke="#1e1e1e" stroke-width="1"/>
<line x1="519.75" y1="970.6" x2="519.75" y2="992.4" stroke="#1e1e1e" stroke-width="1.25"/>
<line x1="516.65" y1="970.6" x2="522.85" y2="970.6" stroke="#1e1e1e" stroke-width="1.3"/>
<line x1="516.65" y1="992.4" x2="522.85" y2="992.4" stroke="#1e1e1e" stroke-width="1"/>
<line x1="539.55" y1="1002.3" x2="539.55" y2="1016.5" stroke="#1e1e1e" stroke-width="1.25"/>
<line x1="536.45" y1="1002.3" x2="542.65" y2="1002.3" stroke="#1e1e1e" stroke-width="1.3"/>
<line x1="536.45" y1="1016.5" x2="542.65" y2="1016.5" stroke="#1e1e1e" stroke-width="1"/>
<line x1="559.35" y1="982.1" x2="559.35" y2="1001.9" stroke="#1e1e1e" stroke-width="1.25"/>
<line x1="556.25" y1="982.1" x2="562.45" y2="982.1" stroke="#1e1e1e" stroke-width="1.3"/>
<line x1="556.25" y1="1001.9" x2="562.45" y2="1001.9" stroke="#1e1e1e" stroke-width="1"/>
<line x1="579.15" y1="967" x2="579.15" y2="981.5" stroke="#1e1e1e" stroke-width="1.25"/>
<line x1="576.05" y1="967" x2="582.25" y2="967" stroke="#1e1e1e" stroke-width="1.3"/>
<line x1="576.05" y1="981.5" x2="582.25" y2="981.5" stroke="#1e1e1e" stroke-width="1"/>
<path d="M92.3,858.7 V1150.2 H603.8" fill="none" stroke="#111" stroke-width="1.9" stroke-linejoin="round"/>
<line x1="264" y1="930.9" x2="301.8" y2="930.9" stroke="#000" stroke-width="2.2"/>
<line x1="264" y1="925.3" x2="264" y2="935.5" stroke="#000" stroke-width="2"/>
<line x1="301.8" y1="925.3" x2="301.8" y2="935.5" stroke="#000" stroke-width="2"/>
<path d="M282.4,917.2 V923.4 M279.65,918.7 L285.15,921.9 M279.65,921.9 L285.15,918.7" stroke="#000" stroke-width="1.45" fill="none"/>
<line x1="391" y1="886.3" x2="451.4" y2="886.3" stroke="#000" stroke-width="2.2"/>
<line x1="391" y1="880.7" x2="391" y2="890.9" stroke="#000" stroke-width="2"/>
<line x1="451.4" y1="880.7" x2="451.4" y2="890.9" stroke="#000" stroke-width="2"/>
<g transform="translate(423.3 882.62) scale(0.8 1)">
<text x="0" y="0" font-size="16.5" text-anchor="middle" font-weight="bold" fill="#000">§</text>
</g>
<line x1="392" y1="907.5" x2="430.2" y2="907.5" stroke="#000" stroke-width="2.2"/>
<line x1="392" y1="901.9" x2="392" y2="912.1" stroke="#000" stroke-width="2"/>
<line x1="430.2" y1="901.9" x2="430.2" y2="912.1" stroke="#000" stroke-width="2"/>
<g transform="translate(411 904.42) scale(0.8 1)">
<text x="0" y="0" font-size="16.5" text-anchor="middle" font-weight="bold" fill="#000">§</text>
</g>
<line x1="519.3" y1="961.2" x2="538.9" y2="961.2" stroke="#000" stroke-width="2.2"/>
<line x1="519.3" y1="955.6" x2="519.3" y2="965.8" stroke="#000" stroke-width="2"/>
<line x1="538.9" y1="955.6" x2="538.9" y2="965.8" stroke="#000" stroke-width="2"/>
<path d="M529.2,948.3 V954.5 M526.45,949.8 L531.95,953 M526.45,953 L531.95,949.8" stroke="#000" stroke-width="1.45" fill="none"/>
<line x1="305" y1="1126.1" x2="323.7" y2="1126.1" stroke="#000" stroke-width="2.2"/>
<line x1="305" y1="1120.5" x2="305" y2="1130.7" stroke="#000" stroke-width="2"/>
<line x1="323.7" y1="1120.5" x2="323.7" y2="1130.7" stroke="#000" stroke-width="2"/>
<g transform="translate(313.8 1123.42) scale(0.8 1)">
<text x="0" y="0" font-size="16.5" text-anchor="middle" font-weight="bold" fill="#000">§</text>
</g>
<line x1="431.9" y1="1125.2" x2="451.7" y2="1125.2" stroke="#000" stroke-width="2.2"/>
<line x1="431.9" y1="1119.6" x2="431.9" y2="1129.8" stroke="#000" stroke-width="2"/>
<line x1="451.7" y1="1119.6" x2="451.7" y2="1129.8" stroke="#000" stroke-width="2"/>
<path d="M441.4,1111.7 V1117.9 M438.65,1113.2 L444.15,1116.4 M438.65,1116.4 L444.15,1113.2" stroke="#000" stroke-width="1.45" fill="none"/>
<line x1="542" y1="1129.3" x2="579.7" y2="1129.3" stroke="#000" stroke-width="2.2"/>
<line x1="542" y1="1123.7" x2="542" y2="1133.9" stroke="#000" stroke-width="2"/>
<line x1="579.7" y1="1123.7" x2="579.7" y2="1133.9" stroke="#000" stroke-width="2"/>
<path d="M559.9,1115.8 V1122 M557.15,1117.3 L562.65,1120.5 M557.15,1120.5 L562.65,1117.3" stroke="#000" stroke-width="1.45" fill="none"/>
<text x="62.9" y="863" font-size="12.8" text-anchor="start" font-weight="bold" fill="#0a0a0a" textLength="16.5" lengthAdjust="spacingAndGlyphs">1,2</text>
<text x="72.8" y="911" font-size="12.8" text-anchor="start" font-weight="bold" fill="#0a0a0a" textLength="6.6" lengthAdjust="spacingAndGlyphs">1</text>
<text x="62.9" y="960" font-size="12.8" text-anchor="start" font-weight="bold" fill="#0a0a0a" textLength="16.5" lengthAdjust="spacingAndGlyphs">0,8</text>
<text x="62.9" y="1009" font-size="12.8" text-anchor="start" font-weight="bold" fill="#0a0a0a" textLength="16.5" lengthAdjust="spacingAndGlyphs">0,6</text>
<text x="62.9" y="1057" font-size="12.8" text-anchor="start" font-weight="bold" fill="#0a0a0a" textLength="16.5" lengthAdjust="spacingAndGlyphs">0,4</text>
<text x="62.9" y="1106" font-size="12.8" text-anchor="start" font-weight="bold" fill="#0a0a0a" textLength="16.5" lengthAdjust="spacingAndGlyphs">0,2</text>
<text x="72.8" y="1154" font-size="12.8" text-anchor="start" font-weight="bold" fill="#0a0a0a" textLength="6.6" lengthAdjust="spacingAndGlyphs">0</text>
<text x="156.3" y="1176" font-size="15.8" text-anchor="middle" font-weight="normal" fill="#0a0a0a" stroke="#0a0a0a" stroke-width="0.55">0</text>
<text x="284.1" y="1176" font-size="15.8" text-anchor="middle" font-weight="normal" fill="#0a0a0a" stroke="#0a0a0a" stroke-width="0.55">2</text>
<text x="411.8" y="1176" font-size="15.8" text-anchor="middle" font-weight="normal" fill="#0a0a0a" stroke="#0a0a0a" stroke-width="0.55">4</text>
<text x="539.6" y="1176" font-size="15.8" text-anchor="middle" font-weight="normal" fill="#0a0a0a" stroke="#0a0a0a" stroke-width="0.55">6</text>
<text x="296.4" y="1198" font-size="15.5" text-anchor="start" font-weight="bold" fill="#0a0a0a" textLength="101.6" lengthAdjust="spacingAndGlyphs">Weeks of PCCI</text>
<text x="54.1" y="1114" font-size="16.5" text-anchor="start" font-weight="bold" fill="#0a0a0a" textLength="218" lengthAdjust="spacingAndGlyphs" transform="rotate(-90 54.1 1114)">ROS: active mitochondria ratio</text>
<text x="138.9" y="1235" font-size="14.4" text-anchor="start" font-weight="bold" fill="#0a0a0a" textLength="66.4" lengthAdjust="spacingAndGlyphs">Treatment</text>
<rect x="222.6" y="1226.8" width="8.6" height="8.6" fill="#000"/>
<text x="235.4" y="1235" font-size="14.4" text-anchor="start" font-weight="bold" fill="#0a0a0a" textLength="40.7" lengthAdjust="spacingAndGlyphs">HF_HF</text>
<rect x="292.8" y="1227" width="8.2" height="8.2" fill="#fff" stroke="#2a2a2a" stroke-width="1.1"/>
<path d="M293.7,1233.5 L300.1,1228.7 M293.7,1229.5 L295.5,1227.9 M298.3,1234.3 L300.1,1232.7" stroke="#1c1c1c" stroke-width="1.7" fill="none"/>
<text x="305.7" y="1235" font-size="14.4" text-anchor="start" font-weight="bold" fill="#0a0a0a" textLength="55.8" lengthAdjust="spacingAndGlyphs">HF_CTRL</text>
<rect x="378" y="1227" width="8.2" height="8.2" fill="url(#hf)" stroke="#747474" stroke-width="1"/>
<text x="390.3" y="1235" font-size="14.4" text-anchor="start" font-weight="bold" fill="#0a0a0a" textLength="40.7" lengthAdjust="spacingAndGlyphs">HF_CR</text>
<rect x="449.5" y="1226.8" width="8.6" height="8.6" fill="#393939"/>
<text x="462.3" y="1235" font-size="14.4" text-anchor="start" font-weight="bold" fill="#0a0a0a" textLength="67.4" lengthAdjust="spacingAndGlyphs">CTRL_CTRL</text>
<g transform="translate(1.9 849.6) scale(0.84 1)">
<text x="0" y="0" font-size="34.3" text-anchor="start" font-weight="normal" fill="#000" stroke="#000" stroke-width="1.3">C</text>
</g>
</g>
</svg>
</body>
</html>
